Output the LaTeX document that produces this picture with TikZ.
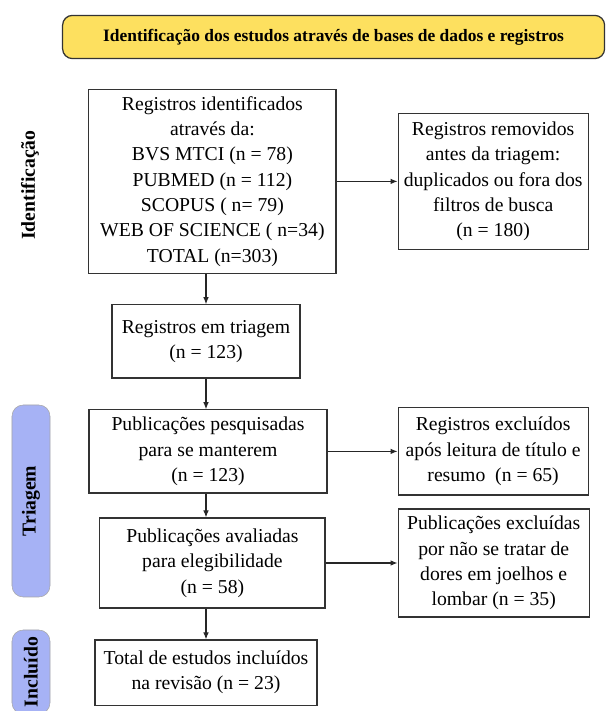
\documentclass[tikz,border=0pt]{standalone}
\usepackage{fontspec}
\setmainfont{Liberation Serif}
\usepackage{xcolor}
\usepackage{tikz}
\usetikzlibrary{calc,positioning,arrows.meta,shapes}

\definecolor{headyellow}{RGB}{253,224,95}
\definecolor{phaseblue}{RGB}{166,178,245}

\tikzset{
    box/.style={draw=black!80, line width=0.8pt, align=center, inner sep=2pt,
        font=\fontsize{14}{18}\selectfont},
    phase/.style={draw=black!35, fill=phaseblue, rounded corners=8pt, rotate=90,
        font=\fontsize{14}{16}\selectfont\bfseries},
    flow/.style={-{Latex[length=5pt,width=4pt]}, line width=0.8pt, draw=black!85},
}

\begin{document}
\begin{tikzpicture}
        \useasboundingbox (0,0) rectangle (15.15,17.775);

        \node [draw=black!80, line width=0.9pt, fill=headyellow, rounded corners=7pt,
            minimum width=13.55cm, minimum height=1.08cm,
            font=\fontsize{12.4}{15}\selectfont\bfseries] (head) at (8.34,16.85)
            {Identificação dos estudos através de bases de dados e registros};

        \node [box, minimum width=6.18cm, minimum height=4.6cm] (ident) at (5.31,13.24)
            {Registros identificados\\através da:\\BVS MTCI (n = 78)\\PUBMED (n = 112)\\SCOPUS ( n= 79)\\WEB OF SCIENCE ( n=34)\\TOTAL (n=303)};
        \node [box, right=1.525cm of ident, minimum width=4.75cm, minimum height=3.4cm] (removed)
            {Registros removidos\\antes da triagem:\\duplicados ou fora dos\\filtros de busca\\(n = 180)};

        \node [box, minimum width=4.7cm, minimum height=1.83cm] (screen) at (5.15,9.24)
            {Registros em triagem\\(n = 123)};

        \node [box, minimum width=5.95cm, minimum height=2.08cm] (searched) at (5.2,6.49)
            {Publicações pesquisadas\\para se manterem\\(n = 123)};
        \node [box, right=1.75cm of searched, minimum width=4.75cm, minimum height=2.18cm] (excluded)
            {Registros excluídos\\após leitura de título e\\resumo~~(n = 65)};

        \node [box, minimum width=5.63cm, minimum height=2.25cm] (assessed) at (5.31,3.7)
            {Publicações avaliadas\\para elegibilidade\\(n = 58)};
        \node [box, right=1.8cm of assessed, minimum width=4.78cm, minimum height=2.7cm] (notknee)
            {Publicações excluídas\\por não se tratar de\\dores em joelhos e\\lombar (n = 35)};

        \node [box, minimum width=5.55cm, minimum height=1.63cm] (included) at (5.15,0.96)
            {Total de estudos incluídos\\na revisão (n = 23)};

        % main column
        \draw[flow] (ident.south -| screen.north) -- (screen.north);
        \draw[flow] (screen.south) -- (screen.south |- searched.north);
        \draw[flow] (screen.south |- searched.south) -- (screen.south |- assessed.north);
        \draw[flow] (screen.south |- assessed.south) -- (screen.south |- included.north);

        % exclusions
        \draw[flow] (ident.east) -- (ident.east -| removed.west);
        \draw[flow] (searched.east) -- (searched.east -| excluded.west);
        \draw[flow] (assessed.east) -- (assessed.east -| notknee.west);

        % phases
        \node [font=\fontsize{14}{16}\selectfont\bfseries, rotate=90] (identlbl) at (0.75,13.15) {Identificação};
        \node [phase, minimum width=4.8cm, minimum height=0.95cm] (screenlbl) at (0.775,5.25) {Triagem};
        \node [phase, minimum width=2.1cm, minimum height=0.95cm] (inclbl) at (0.775,0.975) {Incluído};
    \end{tikzpicture}
\end{document}
